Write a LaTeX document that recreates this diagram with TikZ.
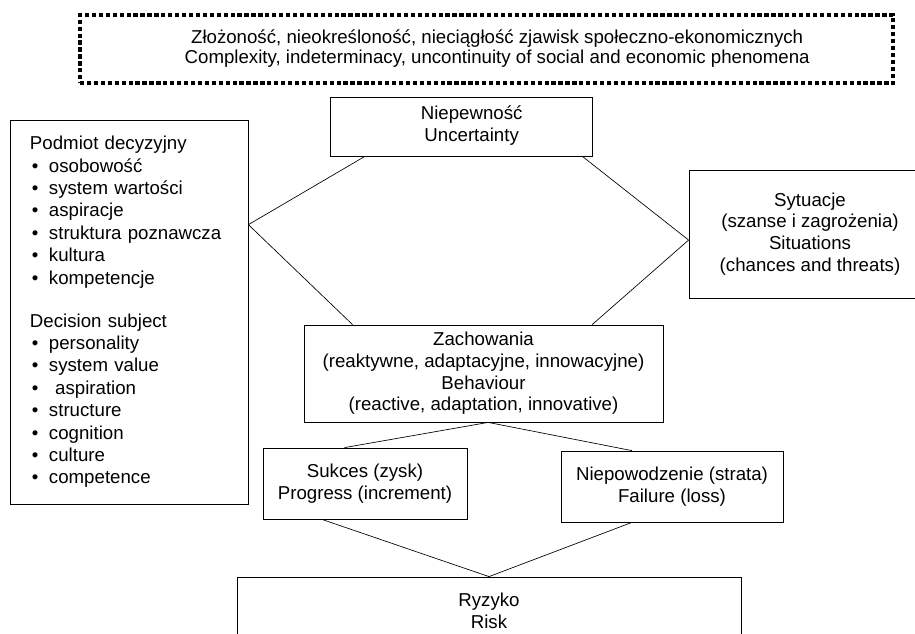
\documentclass[tikz,border=0pt]{standalone}
\usepackage{fontspec}
\setmainfont{Liberation Sans}
\usetikzlibrary{calc}
\tikzset{box/.style = {draw, line width=0.6pt, align=center, inner sep=0pt,
                       font=\fontsize{14}{16.3}\selectfont}}
\tikzset{ramka/.style = {draw, line width=2.6pt, dash pattern=on 3.2pt off 2pt,
                         align=center, inner sep=0pt,
                         font=\fontsize{14}{15}\selectfont}}
\tikzset{link/.style = {line width=0.5pt}}
\newcommand{\pkt}{\hspace*{1.5pt}\makebox[12.75pt][l]{\textbullet}}
\newcommand{\wprawo}[1]{\hspace*{16pt}\begin{tabular}{@{}c@{}}#1\end{tabular}}

\begin{document}
\begin{tikzpicture}[x=0.75pt, y=-0.75pt]
  \useasboundingbox (0,0) rectangle (915,633);

  \node [ramka, minimum width=609.75pt, minimum height=51pt] (zjawiska) at (486.5,49)
        {\wprawo{Złożoność, nieokreśloność, nieciągłość zjawisk społeczno-ekonomicznych\\
         Complexity, indeterminacy, uncontinuity of social and economic phenomena}};

  \node [box, minimum width=196.5pt, minimum height=44.25pt] (niep) at (461,126.5)
        {\wprawo{Niepewność\\ Uncertainty}};

  \node [box, align=left, text width=148.5pt, inner xsep=15pt,
         minimum height=288pt, font=\fontsize{14}{16.8}\selectfont] (podmiot) at (129,312)
        {Podmiot decyzyjny\\
         \pkt osobowość\\
         \pkt system wartości\\
         \pkt aspiracje\\
         \pkt struktura poznawcza\\
         \pkt kultura\\
         \pkt kompetencje\\[15.5pt]
         Decision subject\\
         \pkt personality\\
         \pkt system value\\
         \pkt\ aspiration\\
         \pkt structure\\
         \pkt cognition\\
         \pkt culture\\
         \pkt competence};

  \node [box, minimum width=181.5pt, minimum height=96pt] (syt) at (810,234)
        {Sytuacje\\ (szanse i zagrożenia)\\ Situations\\ (chances and threats)};

  \node [box, minimum width=269.25pt, minimum height=72.75pt] (zach) at (483.5,373.5)
        {Zachowania\\ (reaktywne, adaptacyjne, innowacyjne)\\ Behaviour\\
         (reactive, adaptation, innovative)};

  \node [box, minimum width=153pt, minimum height=53.25pt] (sukces) at (365,483.5)
        {Sukces (zysk)\\ Progress (increment)};

  \node [box, minimum width=166.5pt, minimum height=53.25pt] (porazka) at (672,486.5)
        {Niepowodzenie (strata)\\ Failure (loss)};

  \node [box, minimum width=378pt, minimum height=51pt] (ryzyko) at (489,611)
        {Ryzyko\\ Risk};

  \draw [link] ($(niep.south west)!0.134!(niep.south east)$)
            -- ($(podmiot.north east)!0.273!(podmiot.south east)$)
            -- ($(zach.north west)!0.136!(zach.north east)$);
  \draw [link] ($(niep.south west)!0.962!(niep.south east)$)
            -- ($(syt.north west)!0.547!(syt.south west)$)
            -- ($(zach.north west)!0.802!(zach.north east)$);

  \draw [link] ($(sukces.north west)!0.4!(sukces.north east)$)
            -- ($(zach.south west)!0.513!(zach.south east)$)
            -- ($(porazka.north west)!0.32!(porazka.north east)$);
  \draw [link] ($(sukces.south west)!0.29!(sukces.south east)$)
            -- (ryzyko.north)
            -- ($(porazka.south west)!0.32!(porazka.south east)$);
\end{tikzpicture}
\end{document}
